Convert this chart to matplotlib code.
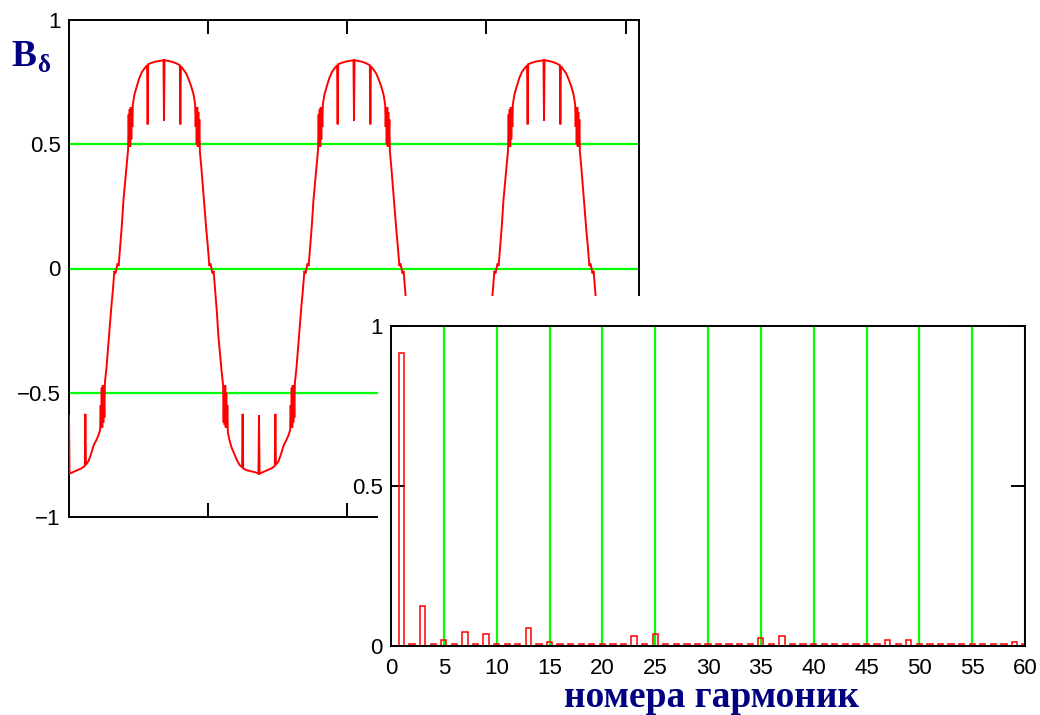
import numpy as np
import matplotlib
matplotlib.use("Agg")
import matplotlib.pyplot as plt

# ---------------- data ----------------
# Upper chart: air-gap flux density B_delta vs electrical angle (deg).
# One traced half-wave (offset from its extremum, degrees) ...
half_deg = [-90, -88, -86, -83, -80, -77, -74, -71, -68, -67, -66, -65, -64, -63,
            -62, -61, -60, -59, -56, -52, -47, -42, -37, -32, -31, -30, -23, -15,
            -7, -1, 0, 1, 7, 15, 23, 30, 31, 32, 37, 42, 47, 52, 56, 59, 60, 61,
            62, 63, 64, 65, 66, 67, 68, 71, 74, 77, 80, 83, 86, 88, 90]
# ... positive half-wave (around a maximum)
peak_B = [0.00, 0.02, 0.01, 0.09, 0.17, 0.27, 0.34, 0.41, 0.48, 0.62, 0.50, 0.64,
          0.49, 0.65, 0.52, 0.63, 0.57, 0.66, 0.70, 0.73, 0.765, 0.79, 0.805, 0.818,
          0.58, 0.822, 0.828, 0.833, 0.836, 0.838, 0.595, 0.838, 0.836, 0.832,
          0.826, 0.818, 0.58, 0.814, 0.80, 0.785, 0.76, 0.73, 0.70, 0.66, 0.57,
          0.64, 0.50, 0.65, 0.49, 0.63, 0.52, 0.60, 0.47, 0.40, 0.32, 0.24, 0.16,
          0.09, 0.01, 0.02, 0.00]
# ... negative half-wave (around a minimum)
trough_B = [0.00, -0.02, -0.01, -0.09, -0.17, -0.27, -0.34, -0.41, -0.47, -0.62,
            -0.48, -0.63, -0.47, -0.64, -0.50, -0.63, -0.55, -0.66, -0.69, -0.72,
            -0.745, -0.77, -0.79, -0.80, -0.585, -0.805, -0.812, -0.816, -0.82,
            -0.825, -0.59, -0.825, -0.82, -0.812, -0.805, -0.795, -0.585, -0.79,
            -0.775, -0.745, -0.71, -0.69, -0.67, -0.65, -0.55, -0.63, -0.48, -0.64,
            -0.47, -0.62, -0.50, -0.60, -0.46, -0.40, -0.32, -0.24, -0.16, -0.09,
            -0.01, -0.02, 0.00]
# positions (deg) of the extrema seen in the window 0..1080
trough_centers = [0, 360, 720, 1080]
peak_centers = [180, 540, 900]

upper_yticks = [-1, -0.5, 0, 0.5, 1]
upper_ylabels = ["\u22121", "\u22120.5", "0", "0.5", "1"]

# Lower chart: harmonic spectrum
harmonic_n = list(range(1, 61))
harmonic_amp = [0.914, 0.005, 0.125, 0.005, 0.019, 0.005, 0.043, 0.005, 0.037, 0.005,
                0.005, 0.005, 0.055, 0.005, 0.0125, 0.005, 0.005, 0.005, 0.005, 0.005,
                0.005, 0.005, 0.031, 0.005, 0.036, 0.005, 0.005, 0.005, 0.005, 0.005,
                0.005, 0.005, 0.005, 0.005, 0.024, 0.005, 0.030, 0.005, 0.005, 0.005,
                0.005, 0.005, 0.005, 0.005, 0.005, 0.005, 0.018, 0.005, 0.019, 0.005,
                0.005, 0.005, 0.005, 0.005, 0.005, 0.005, 0.005, 0.005, 0.011, 0.005]
lower_xticks = list(range(0, 61, 5))
lower_yticks = [0, 0.5, 1]
lower_ylabels = ["0", "0.5", "1"]

x_label = "номера гармоник"

# ---------------- style ----------------
RED = "#ff0000"
GREEN = "#00ff00"
NAVY = "#000080"
TICK_FONT = dict(family=["Liberation Sans", "DejaVu Sans"], size=16)

W, H = 1040, 715
fig = plt.figure(figsize=(W / 100, H / 100), dpi=100)
fig.patch.set_facecolor("white")


def fx(px):
    return px / W


def fy(py):
    return 1 - py / H


# ---------------- upper axes ----------------
ax1 = fig.add_axes([fx(69), fy(517), (639 - 69) / W, (517 - 20) / H])
ax1.set_xlim(0, 1080)
ax1.set_ylim(-1, 1)

segments = sorted([(c, peak_B) for c in peak_centers] + [(c, trough_B) for c in trough_centers],
                  key=lambda s: s[0])
xs, ys = [], []
for c, vals in segments:
    xs.extend(c + np.asarray(half_deg, dtype=float))
    ys.extend(vals)
ax1.plot(xs, ys, color=RED, lw=1.4, zorder=3, solid_joinstyle="miter")

for v in upper_yticks[1:-1]:
    ax1.axhline(v, color=GREEN, lw=1.6, zorder=1)

ax1.set_xticks([263, 527, 791, 1055])
ax1.set_xticklabels([])
ax1.tick_params(axis="x", direction="in", length=10, width=1.4, top=True, bottom=True,
                color="black")
ax1.set_yticks(upper_yticks)
ax1.set_yticklabels(upper_ylabels, fontdict=TICK_FONT)
ax1.tick_params(axis="y", length=0, pad=6, colors="black")
for s in ax1.spines.values():
    s.set_linewidth(1.4)
    s.set_color("black")

# B_delta label
fig.text(fx(11), fy(66), "B", fontsize=27, fontweight="bold", color=NAVY,
         family=["Liberation Serif", "DejaVu Serif"], ha="left", va="baseline")
fig.text(fx(37), fy(72), "δ", fontsize=18, fontweight="bold", color=NAVY,
         family=["Liberation Serif", "DejaVu Serif"], ha="left", va="baseline")

# ---------------- white region behind the lower chart ----------------
cover = fig.add_axes([fx(378), 0, (W - 378) / W, (H - 296) / H])
cover.set_xticks([])
cover.set_yticks([])
for s in cover.spines.values():
    s.set_visible(False)
cover.set_facecolor("white")

# ---------------- lower axes ----------------
ax2 = fig.add_axes([fx(391), fy(646), (1025 - 391) / W, (646 - 325.7) / H])
ax2.set_facecolor("white")
ax2.set_xlim(0, 60)
ax2.set_ylim(0, 1)
for v in lower_xticks[1:]:
    ax2.axvline(v, color=GREEN, lw=1.6, zorder=1)
ax2.bar(harmonic_n, harmonic_amp, width=0.5, facecolor="none", edgecolor=RED,
        linewidth=1.1, zorder=3)

ax2.set_xticks(lower_xticks)
ax2.set_xticklabels([str(t) for t in lower_xticks], fontdict=TICK_FONT)
ax2.tick_params(axis="x", length=0, pad=9, colors="black")
ax2.set_yticks(lower_yticks)
ax2.set_yticklabels(lower_ylabels, fontdict=TICK_FONT)
ax2.tick_params(axis="y", direction="in", length=10, width=1.4, left=True, right=True,
                pad=6, colors="black")
for s in ax2.spines.values():
    s.set_linewidth(1.4)
    s.set_color("black")
    s.set_zorder(4)

fig.text(fx(712), fy(707), x_label, fontsize=27, fontweight="bold", color=NAVY,
         family=["Liberation Serif", "DejaVu Serif"], ha="center", va="baseline")

fig.savefig("out.png", dpi=100, facecolor="white")
